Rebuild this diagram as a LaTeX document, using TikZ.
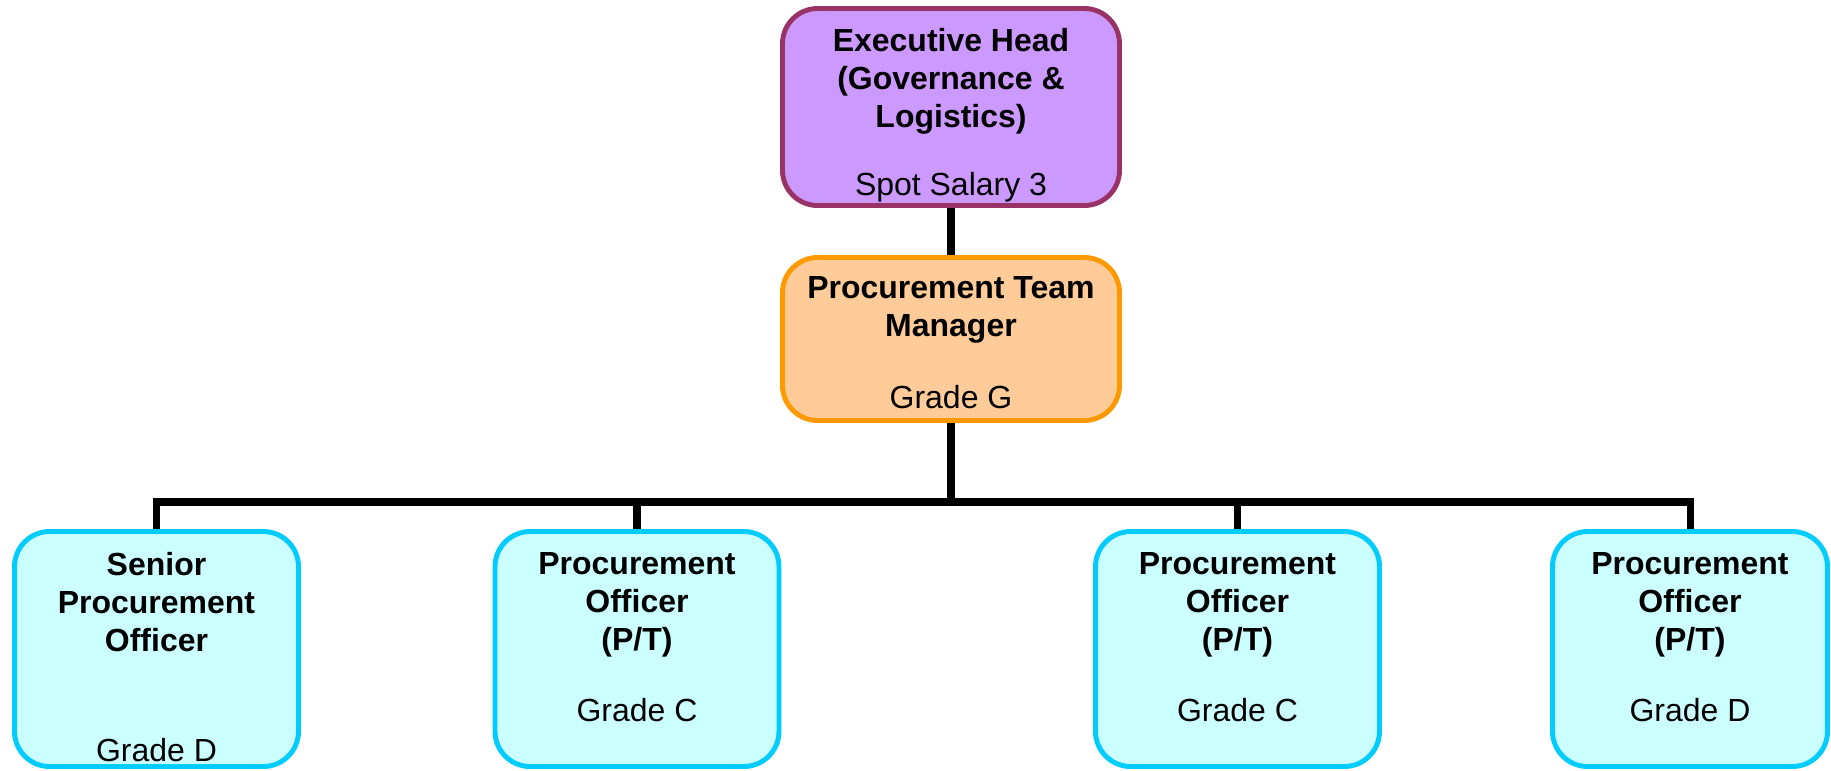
\documentclass[tikz,border=0pt]{standalone}
\usepackage{fontspec}
\setmainfont{Liberation Sans}
\usetikzlibrary{positioning}
\definecolor{headfill}{HTML}{CC99FF}
\definecolor{headline}{HTML}{993366}
\definecolor{mgrfill}{HTML}{FFCC99}
\definecolor{mgrline}{HTML}{FF9900}
\definecolor{pofill}{HTML}{CCFFFF}
\definecolor{poline}{HTML}{00CCFF}
\begin{document}
\begin{tikzpicture}
\tikzstyle{box}=[draw, rounded corners=20pt, line width=2.8pt, minimum width=5.68cm, minimum height=4.7cm, fill=pofill, draw=poline]
\tikzstyle{txt}=[align=center, inner sep=0pt, font=\fontsize{18.2}{21.6}\selectfont\bfseries]
\tikzstyle{link}=[draw, line width=4pt]
\useasboundingbox (0,0) rectangle (36.62,-15.4);
\node[box, fill=headfill, draw=headline, minimum width=6.74cm, minimum height=3.94cm] (head) at (19.02,-2.14) {};
\node[box, fill=mgrfill, draw=mgrline, minimum width=6.74cm, minimum height=3.26cm] (mgr) at (19.02,-6.78) {};
\node[box] (spo) at (3.13,-12.98) {};
\node[box] (po1) at (12.74,-12.98) {};
\node[box] (po2) at (24.75,-12.98) {};
\node[box, minimum width=5.5cm] (po3) at (33.8,-12.98) {};
\node[txt, below=0.44cm of head.north] (headT) {Executive Head\\(Governance \&\\Logistics)\\[17pt]\mdseries Spot Salary 3};
\node[txt, below=0.42cm of mgr.north] (mgrT) {Procurement Team\\Manager\\[19.4pt]\mdseries Grade G};
\node[txt, below=0.46cm of spo.north] (spoT) {Senior\\Procurement\\Officer\\[41pt]\mdseries Grade D};
\node[txt, below=0.46cm of po1.north] (po1T) {Procurement\\Officer\\(P/T)\\[18.8pt]\mdseries Grade C};
\node[txt, below=0.46cm of po2.north] (po2T) {Procurement\\Officer\\(P/T)\\[18.8pt]\mdseries Grade C};
\node[txt, below=0.46cm of po3.north] (po3T) {Procurement\\Officer\\(P/T)\\[18.8pt]\mdseries Grade D};
\coordinate (bus) at (19.02,-10.04);

\draw[link] (head) -- (mgr);
\draw[link] (mgr) -- (bus);
\draw[link] (bus) -| (spo);
\draw[link] (bus) -| (po1);
\draw[link] (bus) -| (po2);
\draw[link] (bus) -| (po3);
\end{tikzpicture}
\end{document}
